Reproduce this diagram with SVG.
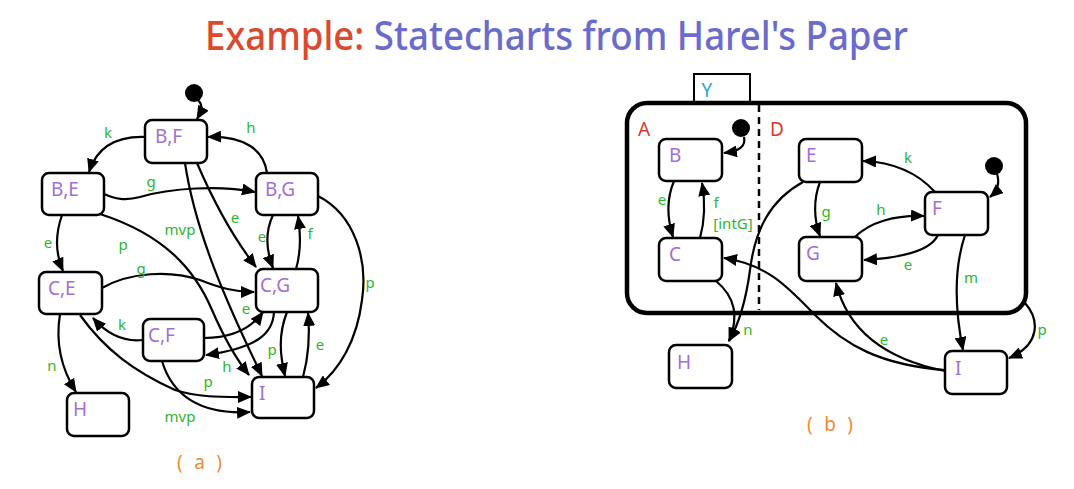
<svg xmlns="http://www.w3.org/2000/svg" width="1074" height="489" viewBox="0 0 1074 489">
<defs>
<marker id="ah" viewBox="0 0 14 12" refX="13" refY="6" markerWidth="14" markerHeight="12" markerUnits="userSpaceOnUse" orient="auto">
<path d="M0,0 L14,6 L0,12 z" fill="#000"/>
</marker>
</defs>
<style>
.node rect{fill:#fff;stroke:#000;stroke-width:2.5}
.nl{font-family:"Noto Sans","DejaVu Sans",sans-serif;font-size:19px;fill:#a16fd6}
.el{font-family:"Noto Sans","DejaVu Sans",sans-serif;font-size:15px;fill:#2fb52f;text-anchor:middle}
.edges path{fill:none;stroke:#000;stroke-width:2.2;marker-end:url(#ah)}
.dot{fill:#000}
.reg{font-family:"Noto Sans","DejaVu Sans",sans-serif;font-size:19px;text-anchor:middle}
.cap{font-family:"Noto Sans","DejaVu Sans",sans-serif;font-size:19px;fill:#f08a30}
</style>
<rect width="1074" height="489" fill="#fff"/>
<text x="205" y="50" textLength="703" lengthAdjust="spacingAndGlyphs" font-family="Noto Sans, DejaVu Sans, sans-serif" font-size="40" font-weight="500"><tspan fill="#d94a2e">Example:</tspan><tspan fill="#6b6bcc"> Statecharts from Harel's Paper</tspan></text>

<!-- (a) -->
<g id="a-init"><circle class="dot" cx="194" cy="93" r="9"/></g>
<g id="a-BF" class="node"><rect x="145" y="120" width="62" height="43" rx="7"/><text class="nl" x="155" y="143">B,F</text></g>
<g id="a-BE" class="node"><rect x="42" y="173" width="62" height="42" rx="7"/><text class="nl" x="51" y="196">B,E</text></g>
<g id="a-BG" class="node"><rect x="256" y="173" width="62" height="42" rx="7"/><text class="nl" x="265" y="196">B,G</text></g>
<g id="a-CE" class="node"><rect x="39" y="272" width="63" height="42" rx="7"/><text class="nl" x="48" y="295">C,E</text></g>
<g id="a-CG" class="node"><rect x="256" y="269" width="62" height="43" rx="7"/><text class="nl" x="260" y="292">C,G</text></g>
<g id="a-CF" class="node"><rect x="143" y="319" width="61" height="42" rx="7"/><text class="nl" x="148" y="342">C,F</text></g>
<g id="a-I" class="node"><rect x="252" y="377" width="62" height="41" rx="7"/><text class="nl" x="259" y="400">I</text></g>
<g id="a-H" class="node"><rect x="67" y="393" width="62" height="43" rx="7"/><text class="nl" x="73" y="416">H</text></g>
<text class="cap" x="177" y="469" textLength="45">( a )</text>

<!-- (b) -->
<g id="b-Y"><rect x="694" y="74" width="56" height="29" fill="#fff" stroke="#000" stroke-width="2"/><text class="reg" x="707" y="97" fill="#2aa6c8">Y</text></g>
<g id="b-box"><rect x="627" y="103" width="399" height="210" rx="20" fill="none" stroke="#000" stroke-width="4.5"/>
<line x1="759" y1="105" x2="759" y2="310" stroke="#000" stroke-width="2.5" stroke-dasharray="7,5"/>
<text class="reg" x="644" y="136" fill="#d63b2b">A</text><text class="reg" x="777" y="136" fill="#d63b2b">D</text></g>
<g id="b-initA"><circle class="dot" cx="741" cy="128" r="9"/></g>
<g id="b-initD"><circle class="dot" cx="994" cy="166" r="9"/></g>
<g id="b-B" class="node"><rect x="659" y="139" width="63" height="42" rx="7"/><text class="nl" x="669" y="162">B</text></g>
<g id="b-C" class="node"><rect x="659" y="238" width="63" height="43" rx="7"/><text class="nl" x="669" y="261">C</text></g>
<g id="b-E" class="node"><rect x="799" y="139" width="63" height="43" rx="7"/><text class="nl" x="806" y="162">E</text></g>
<g id="b-G" class="node"><rect x="799" y="237" width="63" height="44" rx="7"/><text class="nl" x="806" y="260">G</text></g>
<g id="b-F" class="node"><rect x="925" y="192" width="63" height="43" rx="7"/><text class="nl" x="932" y="215">F</text></g>
<g id="b-H" class="node"><rect x="669" y="345" width="63" height="43" rx="7"/><text class="nl" x="677" y="369">H</text></g>
<g id="b-I" class="node"><rect x="945" y="351" width="62" height="43" rx="7"/><text class="nl" x="955" y="375">I</text></g>
<text class="cap" x="807" y="431" textLength="46">( b )</text>

<g id="connectors" class="edges">
<path d="M198,100 C204,106 201,112 197,119"/>
<path d="M145,137 C112,136 96,150 89,172"/>
<path d="M267,173 C264,150 245,136 208,137"/>
<path d="M104,194 C115,199 125,201 140,197 C170,188 220,185 255,192"/>
<path d="M62,215 C55,235 56,255 63,271"/>
<path d="M100,214 C165,235 195,270 212,310 C225,340 237,360 249,375"/>
<path d="M185,163 C195,230 225,300 262,376"/>
<path d="M197,163 C215,205 235,240 256,267"/>
<path d="M273,215 C265,232 266,250 273,268"/>
<path d="M296,269 C301,252 301,235 298,216"/>
<path d="M318,196 C355,215 368,260 362,300 C357,340 340,370 316,388"/>
<path d="M102,288 C130,272 170,270 200,280 C220,288 235,292 254,292"/>
<path d="M60,314 C55,345 62,370 76,392"/>
<path d="M143,340 C125,342 108,335 93,318"/>
<path d="M204,338 C230,338 250,330 263,312"/>
<path d="M274,312 C273,335 255,348 206,355"/>
<path d="M287,312 C278,335 280,355 285,376"/>
<path d="M303,377 C309,355 310,335 308,313"/>
<path d="M80,315 C105,350 135,372 175,390 C200,398 225,397 251,397"/>
<path d="M162,361 C172,395 200,415 250,412"/>

<path d="M744,137 C746,146 740,151 724,153"/>
<path d="M674,181 C666,200 667,218 673,237"/>
<path d="M700,238 C705,220 705,200 702,183"/>
<path d="M803,182 C770,200 755,230 750,270 C746,300 740,322 729,341"/>
<path d="M716,281 C733,295 740,315 729,341"/>
<path d="M945,370 C880,365 845,345 815,315 C790,290 770,265 724,258"/>
<path d="M945,371 C900,362 850,340 836,283"/>
<path d="M935,192 C915,170 890,162 863,161"/>
<path d="M855,237 C870,222 895,215 924,216"/>
<path d="M938,235 C930,252 900,258 864,260"/>
<path d="M820,182 C813,200 814,220 820,236"/>
<path d="M997,174 C1000,183 997,191 990,197"/>
<path d="M965,235 C955,265 953,300 963,350"/>
<path d="M1025,303 C1040,320 1040,345 1009,358"/>
</g>

<g id="edge-labels">
<text class="el" x="108" y="138">k</text>
<text class="el" x="251" y="133">h</text>
<text class="el" x="151" y="187">g</text>
<text class="el" x="48" y="248">e</text>
<text class="el" x="123" y="250">p</text>
<text class="el" x="180" y="235">mvp</text>
<text class="el" x="235" y="223">e</text>
<text class="el" x="262" y="242">e</text>
<text class="el" x="310" y="239">f</text>
<text class="el" x="370" y="288">p</text>
<text class="el" x="141" y="274">g</text>
<text class="el" x="246" y="314">e</text>
<text class="el" x="122" y="330">k</text>
<text class="el" x="52" y="371">n</text>
<text class="el" x="272" y="355">p</text>
<text class="el" x="320" y="350">e</text>
<text class="el" x="227" y="372">h</text>
<text class="el" x="208" y="387">p</text>
<text class="el" x="180" y="422">mvp</text>

<text class="el" x="662" y="205">e</text>
<text class="el" x="716" y="208">f</text>
<text class="el" x="733" y="229">[intG]</text>
<text class="el" x="826" y="217">g</text>
<text class="el" x="881" y="215">h</text>
<text class="el" x="908" y="163">k</text>
<text class="el" x="908" y="270">e</text>
<text class="el" x="971" y="283">m</text>
<text class="el" x="748" y="335">n</text>
<text class="el" x="884" y="345">e</text>
<text class="el" x="1042" y="335">p</text>
</g>
</svg>
